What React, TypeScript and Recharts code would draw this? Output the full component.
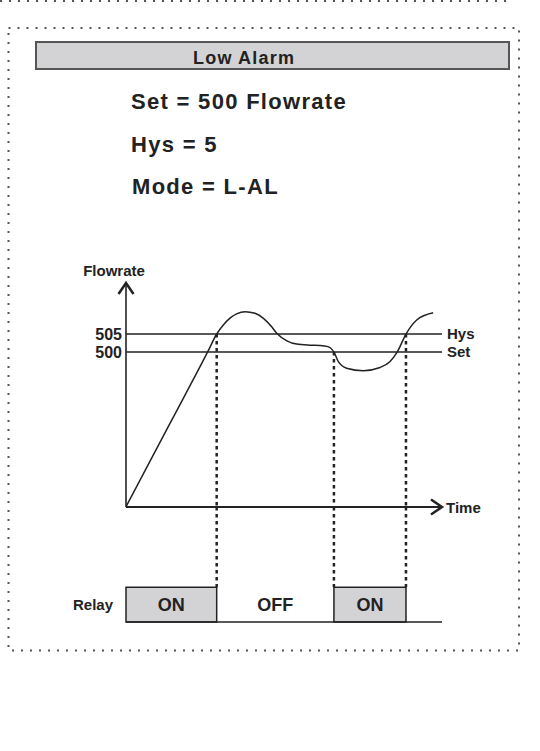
import React from 'react';
import {
  ComposedChart,
  Line,
  ReferenceArea,
  ReferenceLine,
  XAxis,
  YAxis,
} from 'recharts';

const FONT = "'Liberation Sans', Arial, sans-serif";
const INK = '#222';
const GREY = '#d3d3d5';

const TITLE = 'Low Alarm';
const SETTINGS = ['Set = 500 Flowrate', 'Hys = 5', 'Mode = L-AL'];

const SET_POINT = 500;
const HYS_POINT = 505;

// flowrate trace (time in arbitrary units 0..100)
const TIME = [0, 14, 26, 28.7, 30.8, 32.9, 35, 37.7, 40.8, 43.4, 46.1, 47.7, 50.9, 54, 58.2, 61.4, 63.9, 65.9, 67.2, 69.8, 75.1, 80.4, 83.5, 85.7, 88.6, 92, 97.2];
const FLOWRATE = [457, 480.3, 500.3, 505, 507.5, 509.4, 510.6, 511.2, 510.75, 509.4, 507, 505.2, 503.1, 502.2, 501.9, 501.8, 501.5, 499.8, 497.3, 495.5, 494.8, 495.7, 497.3, 499.8, 505, 508.9, 510.9];

// relay switching instants and the threshold crossed at each one
const SWITCH_TIMES = [28.7, 65.8, 88.6];
const SWITCH_LEVELS = [505, 500, 505];

const RELAY_FROM = [0, 28.7, 65.8];
const RELAY_TO = [28.7, 65.8, 88.6];
const RELAY_STATE = ['ON', 'OFF', 'ON'];

const trace = TIME.map((t, i) => ({ t, flow: FLOWRATE[i] }));
const relay = RELAY_FROM.map((t, i) => ({ t, on: RELAY_STATE[i] === 'ON' ? 1 : 0 }));

const dashed = { stroke: INK, strokeWidth: 2.5, strokeDasharray: '3.5 3.5' };

function Background() {
  return (
    <svg width={540} height={751} style={{ position: 'absolute', left: 0, top: 0 }}>
      <defs>
        <marker
          id="arrowHead"
          viewBox="-16 -12 20 24"
          refX={0}
          refY={0}
          markerWidth={20}
          markerHeight={24}
          markerUnits="userSpaceOnUse"
          orient="auto-start-reverse"
        >
          <path d="M -11 -7.5 L 0 0 L -11 7.5" fill="none" stroke={INK} strokeWidth={2.5} />
        </marker>
      </defs>
      <line x1={0} y1={1} x2={512} y2={1} stroke="#555" strokeWidth={2} strokeDasharray="2 7" />
      <rect x={8.5} y={28} width={510.5} height={622.5} fill="none" stroke="#555" strokeWidth={2} strokeDasharray="2 7" />
      <rect x={36} y={42} width={473} height={27} fill={GREY} stroke="#555" strokeWidth={2} />
      <text x={193} y={64} fontFamily={FONT} fontWeight={700} fontSize={18} letterSpacing={1.2} fill={INK}>
        {TITLE}
      </text>
      {SETTINGS.map((s, i) => (
        <text
          key={s}
          x={i === 2 ? 132 : 131}
          y={[109, 152, 194][i]}
          fontFamily={FONT}
          fontWeight={700}
          fontSize={22}
          letterSpacing={1.3}
          fill={INK}
        >
          {s}
        </text>
      ))}
    </svg>
  );
}

function FlowChart() {
  return (
    <div style={{ position: 'absolute', left: 0, top: 0 }}>
      <ComposedChart
        width={540}
        height={530}
        data={trace}
        margin={{ top: 283, right: 98, bottom: 21, left: 102 }}
      >
        <XAxis
          dataKey="t"
          type="number"
          domain={[0, 100]}
          allowDataOverflow
          height={2}
          tick={false}
          tickLine={false}
          axisLine={{ stroke: INK, strokeWidth: 2, markerEnd: 'url(#arrowHead)' }}
          label={{ value: 'Time', position: 'right', offset: 4, fill: INK, fontSize: 15, fontWeight: 700, fontFamily: FONT }}
        />
        <YAxis
          type="number"
          domain={[456.94, 519.17]}
          allowDataOverflow
          ticks={[SET_POINT, HYS_POINT]}
          interval={0}
          width={24}
          tickLine={false}
          tickSize={4}
          tickMargin={0}
          tick={{ fill: INK, fontSize: 16, fontWeight: 700, fontFamily: FONT }}
          axisLine={{ stroke: INK, strokeWidth: 1.6, markerStart: 'url(#arrowHead)' }}
          label={{ value: 'Flowrate', position: 'top', offset: 7, fill: INK, fontSize: 15, fontWeight: 700, fontFamily: FONT }}
        />
        <ReferenceLine
          segment={[{ x: 0, y: HYS_POINT }, { x: 100, y: HYS_POINT }]}
          stroke={INK}
          strokeWidth={1.3}
          label={{ value: 'Hys', position: 'right', offset: 5, fill: INK, fontSize: 15, fontWeight: 700, fontFamily: FONT }}
        />
        <ReferenceLine
          segment={[{ x: 0, y: SET_POINT }, { x: 100, y: SET_POINT }]}
          stroke={INK}
          strokeWidth={1.3}
          label={{ value: 'Set', position: 'right', offset: 5, fill: INK, fontSize: 15, fontWeight: 700, fontFamily: FONT }}
        />
        {SWITCH_TIMES.map((t, i) => (
          <ReferenceLine
            key={t}
            segment={[{ x: t, y: SWITCH_LEVELS[i] }, { x: t, y: 456.94 }]}
            {...dashed}
          />
        ))}
        <Line
          dataKey="flow"
          type="monotone"
          stroke={INK}
          strokeWidth={1.5}
          dot={false}
          activeDot={false}
          isAnimationActive={false}
        />
      </ComposedChart>
    </div>
  );
}

function RelayChart() {
  return (
    <div style={{ position: 'absolute', left: 0, top: 500 }}>
      <ComposedChart
        width={540}
        height={140}
        data={relay}
        margin={{ top: 7, right: 98, bottom: 18, left: 102 }}
      >
        <XAxis type="number" dataKey="t" domain={[0, 100]} allowDataOverflow hide />
        <YAxis
          type="number"
          dataKey="on"
          domain={[0, 3.3]}
          allowDataOverflow
          ticks={[0.5]}
          interval={0}
          width={24}
          tickFormatter={() => 'Relay'}
          axisLine={false}
          tickLine={false}
          tickSize={6}
          tickMargin={7}
          tick={{ fill: INK, fontSize: 15, fontWeight: 700, fontFamily: FONT }}
        />
        {SWITCH_TIMES.map((t) => (
          <ReferenceLine key={t} segment={[{ x: t, y: 3.3 }, { x: t, y: 1 }]} {...dashed} />
        ))}
        <ReferenceLine y={0} stroke={INK} strokeWidth={1.5} />
        {RELAY_STATE.map((s, i) => (
          <ReferenceArea
            key={i}
            x1={RELAY_FROM[i]}
            x2={RELAY_TO[i]}
            y1={0}
            y2={1}
            fill={s === 'ON' ? GREY : 'none'}
            fillOpacity={1}
            stroke={s === 'ON' ? INK : 'none'}
            strokeWidth={1.5}
            label={{ value: s, position: 'center', fill: INK, fontSize: 18, fontWeight: 700, fontFamily: FONT }}
          />
        ))}
      </ComposedChart>
    </div>
  );
}

export default function App() {
  return (
    <div style={{ position: 'absolute', left: 0, top: 0, width: 540, height: 751, background: '#fff' }}>
      <Background />
      <FlowChart />
      <RelayChart />
    </div>
  );
}
